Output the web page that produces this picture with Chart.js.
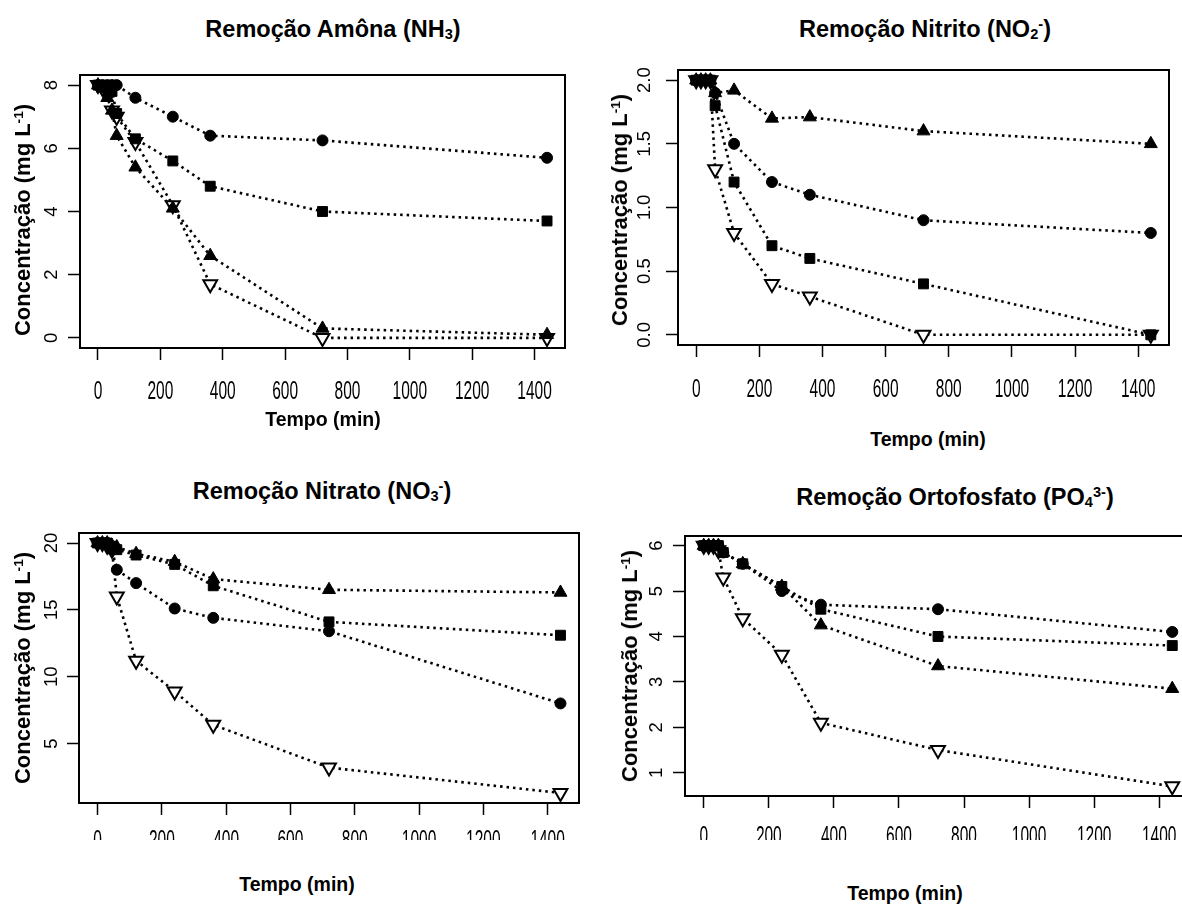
<!DOCTYPE html>
<html>
<head>
<meta charset="utf-8">
<script src="https://cdn.jsdelivr.net/npm/chart.js@4.4.0/dist/chart.umd.min.js"></script>
<style>
body{margin:0;width:1182px;height:906px;overflow:hidden;background:#fff;position:relative;font-family:"Liberation Sans",Arial,sans-serif;color:#000}
canvas{position:absolute}
.t{position:absolute;font-weight:bold;white-space:nowrap;line-height:1;transform:translate(-50%,-50%)}
.yl{transform:translate(-50%,-50%) rotate(-90deg)}
sub,sup{font-size:62%;line-height:0}
sub{vertical-align:-0.15em}
sup{vertical-align:0.55em}
</style>
</head>
<body>
<canvas id="c1" width="590" height="360" style="left:0;top:60px"></canvas>
<canvas id="c2" width="591" height="360" style="left:591px;top:55px"></canvas>
<canvas id="c3" width="590" height="320" style="left:0;top:520px"></canvas>
<canvas id="c4" width="620" height="320" style="left:591px;top:520px"></canvas>

<div class="t" style="left:333px;top:30px;font-size:23.5px">Remoção Amôna (NH<sub>3</sub>)</div>
<div class="t" style="left:925px;top:30px;font-size:23.5px">Remoção Nitrito (NO<sub>2</sub><sup>-</sup>)</div>
<div class="t" style="left:322px;top:492px;font-size:23.5px">Remoção Nitrato (NO<sub>3</sub><sup>-</sup>)</div>
<div class="t" style="left:955px;top:498px;font-size:23.5px">Remoção Ortofosfato (PO<sub>4</sub><sup>3-</sup>)</div>

<div class="t" style="left:323px;top:420px;font-size:19.5px">Tempo (min)</div>
<div class="t" style="left:928px;top:440px;font-size:19.5px">Tempo (min)</div>
<div class="t" style="left:297px;top:885px;font-size:19.5px">Tempo (min)</div>
<div class="t" style="left:905px;top:894px;font-size:19.5px">Tempo (min)</div>

<div class="t yl" style="left:23px;top:220px;font-size:22px">Concentração (mg L<sup>-1</sup>)</div>
<div class="t yl" style="left:620px;top:210px;font-size:22px">Concentração (mg L<sup>-1</sup>)</div>
<div class="t yl" style="left:23px;top:668px;font-size:22px">Concentração (mg L<sup>-1</sup>)</div>
<div class="t yl" style="left:630px;top:666px;font-size:22px">Concentração (mg L<sup>-1</sup>)</div>

<script>
// tempos de coleta (min)
const tempo=[0,15,30,45,60,120,240,360,720,1440]
const xTicks=[0,200,400,600,800,1000,1200,1400]

// Amônia (NH3)
const nh3Circ=[8.0,8.0,8.0,8.0,8.0,7.6,7.0,6.4,6.25,5.7]
const nh3Quad=[8.0,7.95,7.9,7.8,7.1,6.3,5.6,4.8,4.0,3.7]
const nh3Tri=[8.0,7.9,7.6,7.2,6.4,5.4,4.1,2.6,0.3,0.1]
const nh3Inv=[8.0,7.9,7.8,7.2,7.0,6.2,4.2,1.7,0.0,0.0]
const nh3Ticks=[0,2,4,6,8]

// Nitrito (NO2-)
const no2Circ=[2.0,2.0,2.0,2.0,1.9,1.5,1.2,1.1,0.9,0.8]
const no2Quad=[2.0,2.0,2.0,2.0,1.8,1.2,0.7,0.6,0.4,0.0]
const no2Tri=[2.0,2.0,2.0,2.0,1.9,1.92,1.7,1.71,1.6,1.5]
const no2Inv=[2.0,2.0,2.0,2.0,1.3,0.8,0.4,0.3,0.0,0.0]
const no2Ticks=[0,0.5,1,1.5,2]

// Nitrato (NO3-)
const no3Circ=[20,20,20,19.5,18.0,17.0,15.1,14.4,13.4,8.0]
const no3Quad=[20,20,20,19.7,19.5,19.1,18.4,16.8,14.1,13.1]
const no3Tri=[20,20,20,19.8,19.7,19.2,18.6,17.3,16.5,16.3]
const no3Inv=[20,20,19.8,19.5,16.0,11.2,8.9,6.4,3.2,1.3]
const no3Ticks=[5,10,15,20]

// Ortofosfato (PO4 3-)
const po4Circ=[6.0,6.0,6.0,6.0,5.85,5.6,5.0,4.7,4.6,4.1]
const po4Quad=[6.0,6.0,6.0,6.0,5.85,5.6,5.1,4.6,4.0,3.8]
const po4Tri=[6.0,6.0,6.0,6.0,5.85,5.6,5.1,4.25,3.35,2.85]
const po4Inv=[6.0,6.0,6.0,5.9,5.3,4.4,3.6,2.1,1.5,0.7]
const po4Ticks=[1,2,3,4,5,6]

const rotulos={
  id:"rotulos",
  afterDraw(chart,args,opts){
    const {ctx,chartArea:a,scales:{x,y}}=chart
    ctx.save()
    ctx.strokeStyle="#000"
    ctx.lineWidth=2
    ctx.strokeRect(a.left,a.top,a.right-a.left,a.bottom-a.top)
    ctx.fillStyle="#000"
    ctx.textAlign="center"
    ctx.textBaseline="middle"
    ctx.font='18.5px "Liberation Sans", Arial, sans-serif'
    y.ticks.forEach(t=>{
      ctx.save()
      ctx.translate(a.left-opts.yOff,y.getPixelForValue(t.value))
      ctx.rotate(-Math.PI/2)
      ctx.fillText(opts.yFmt(t.value),0,0)
      ctx.restore()
    })
    ctx.font='25px "Liberation Sans", Arial, sans-serif'
    x.ticks.forEach(t=>{
      ctx.save()
      ctx.translate(x.getPixelForValue(t.value),a.bottom+opts.xOff)
      ctx.scale(0.62,1)
      ctx.fillText(String(t.value),0,0)
      ctx.restore()
    })
    ctx.restore()
  }
}

function serie(vals,estilo){
  const base={
    data:tempo.map((t,i)=>({x:t,y:vals[i]})),
    borderColor:"#000",
    borderWidth:2.6,
    borderDash:[2.5,4],
    pointBorderColor:"#000",
    pointBackgroundColor:"#000",
    pointBorderWidth:1,
    tension:0
  }
  if(estilo=="circ") return {...base,pointStyle:"circle",pointRadius:5.5}
  if(estilo=="quad") return {...base,pointStyle:"rect",pointRadius:7}
  if(estilo=="tri") return {...base,pointStyle:"triangle",pointRadius:7.5}
  return {...base,pointStyle:"triangle",pointRotation:180,pointRadius:8,pointBackgroundColor:"#fff",pointBorderWidth:2}
}

function painel(id,canvasBox,box,series,yTicks,yFmt,xOff,yOff){
  const todos=series.flat()
  const lo=Math.min(...todos),hi=Math.max(...todos)
  const ext=(hi-lo)*0.04
  const eixoY=14,eixoX=14
  new Chart(document.getElementById(id),{
    type:"line",
    data:{datasets:[
      serie(series[0],"circ"),
      serie(series[1],"quad"),
      serie(series[2],"tri"),
      serie(series[3],"inv")
    ]},
    options:{
      responsive:false,
      animation:false,
      events:[],
      layout:{padding:{
        left:box.l-canvasBox.l-eixoY,
        top:box.t-canvasBox.t,
        right:canvasBox.l+canvasBox.w-box.r,
        bottom:canvasBox.t+canvasBox.h-box.b-eixoX
      }},
      plugins:{legend:{display:false},tooltip:{enabled:false},rotulos:{yFmt,xOff,yOff}},
      scales:{
        x:{
          type:"linear",
          min:-57.6,max:1497.6,
          afterBuildTicks:s=>{s.ticks=xTicks.map(v=>({value:v}))},
          afterFit:s=>{s.height=eixoX},
          ticks:{display:false},
          grid:{drawOnChartArea:false,drawTicks:true,tickLength:12,tickColor:"#000",tickWidth:1.5},
          border:{display:false}
        },
        y:{
          type:"linear",
          min:lo-ext,max:hi+ext,
          afterBuildTicks:s=>{s.ticks=yTicks.map(v=>({value:v}))},
          afterFit:s=>{s.width=eixoY},
          ticks:{display:false},
          grid:{drawOnChartArea:false,drawTicks:true,tickLength:12,tickColor:"#000",tickWidth:1.5},
          border:{display:false}
        }
      }
    },
    plugins:[rotulos]
  })
}

const inteiro=v=>String(v)
const decimal=v=>v.toFixed(1)

painel("c1",{l:0,t:60,w:590,h:360},{l:80,t:75,r:565,b:348},[nh3Circ,nh3Quad,nh3Tri,nh3Inv],nh3Ticks,inteiro,44,28)
painel("c2",{l:591,t:55,w:591,h:360},{l:678,t:70,r:1169,b:345},[no2Circ,no2Quad,no2Tri,no2Inv],no2Ticks,decimal,45,33)
painel("c3",{l:0,t:520,w:590,h:320},{l:79,t:533,r:579,b:803},[no3Circ,no3Quad,no3Tri,no3Inv],no3Ticks,inteiro,38,27)
painel("c4",{l:591,t:520,w:620,h:320},{l:685,t:536,r:1191,b:796},[po4Circ,po4Quad,po4Tri,po4Inv],po4Ticks,inteiro,41,28)
</script>
</body>
</html>
